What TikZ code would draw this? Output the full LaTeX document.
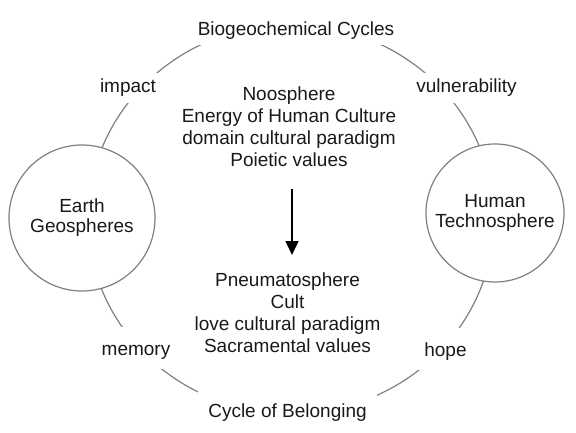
\documentclass[tikz,border=0pt]{standalone}
\usepackage{fontspec}
\setmainfont{Liberation Sans}
\usetikzlibrary{arrows.meta}
\definecolor{lineGray}{RGB}{128,128,128}
\definecolor{textDark}{RGB}{25,25,25}

\begin{document}
\begin{tikzpicture}[x=1pt, y=-1pt,
    every node/.style={text=textDark, font=\fontsize{19}{22}\selectfont},
    ringLabel/.style={fill=white, inner sep=6pt, text height=13.6pt, text depth=4pt, anchor=base},
    lowLabel/.style={ringLabel, inner sep=10pt, text height=18pt},
    sphere/.style={circle, draw=lineGray, line width=1.2pt, fill=white, inner sep=0pt, align=center, font=\fontsize{19}{20}\selectfont},
    block/.style={align=center, inner sep=0pt, anchor=north}]
  \useasboundingbox (0,0) rectangle (576,433);
  % the big ring, labels sit on top of it
  \draw[lineGray, line width=1.2pt] (291,219) ellipse [x radius=203pt, y radius=194.5pt];
  \node[ringLabel] (cycles) at (296,35.5) {Biogeochemical Cycles};
  \node[ringLabel] (impact) at (128,93) {impact};
  \node[ringLabel] (vuln) at (466.5,93) {vulnerability};
  \node[lowLabel] (memory) at (136,355) {memory};
  \node[lowLabel] (hope) at (445.5,356) {hope};
  \node[lowLabel] (belong) at (287.5,417) {Cycle of Belonging};
  \node[sphere, minimum size=146pt] (earth) at (82,218) {Earth\\Geospheres};
  \node[sphere, minimum size=138pt] (techno) at (495,213) {Human\\Technosphere};
  % middle
  \node[block] (noo) at (289,86.4) {Noosphere\\Energy of Human Culture\\domain cultural paradigm\\Poietic values};
  \node[block] (pneuma) at (287.5,273) {Pneumatosphere\\Cult\\love cultural paradigm\\Sacramental values};
  \draw[-{Triangle[length=14pt,width=13pt]}, line width=1.5pt, shorten <=22pt, shorten >=18pt]
    ([xshift=3pt]noo.south) -- ([xshift=3pt]noo.south |- pneuma.north);
\end{tikzpicture}
\end{document}
